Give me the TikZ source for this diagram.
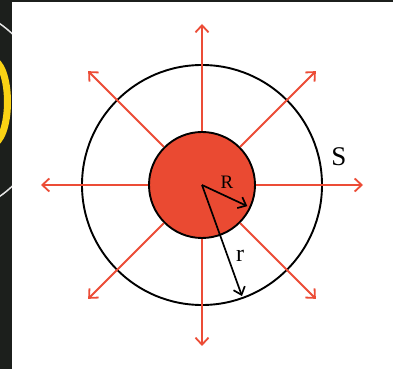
\documentclass[tikz,border=0pt]{standalone}
\usepackage{fontspec}
\setmainfont{Liberation Serif}
\usepackage{tikz}
\usetikzlibrary{arrows.meta, calc}
\definecolor{fieldred}{RGB}{236, 76, 54}
\definecolor{corered}{RGB}{234, 74, 50}
\definecolor{darkedge}{RGB}{28, 31, 28}
\definecolor{ringyellow}{RGB}{250, 210, 20}

\begin{document}
\begin{tikzpicture}[
  x=1pt, y=1pt,
  ray/.style={-{Straight Barb[length=7pt, width=13pt]}, line width=1.8pt, color=fieldred},
  radius arrow/.style={-{Straight Barb[length=7pt, width=12pt]}, line width=1.7pt, color=black},
  tag/.style={inner sep=0pt}
]
  % Frame
  \useasboundingbox (0,0) rectangle (393,369);
  \fill[white] (0,0) rectangle (393,369);
  \fill[darkedge] (0,0) rectangle (12,369);
  \fill[darkedge] (0,367) rectangle (393,369);
  \begin{scope}
    \clip (0,0) rectangle (12,369);
    \draw[ringyellow, line width=7pt] (-8,267) ellipse (15.5 and 42);
    \draw[white!80!gray, line width=1.5pt] (-60,259) circle (105);
  \end{scope}

  % Spheres
  \coordinate (o) at (202,184);
  \node[circle, draw, line width=1.9pt, minimum size=240pt, inner sep=0pt] (shell) at (o) {};
  \node[circle, draw, fill=corered, line width=1.9pt, minimum size=106pt, inner sep=0pt] (core) at (o) {};

  % Field lines
  \foreach \a in {0,45,...,315}{
    \coordinate (tip\a) at ($(o)+(\a:161)$);
    \draw[ray] (core.\a) -- (tip\a);
  }

  % Radii
  \coordinate (Rtip) at ($(o)+(-25:50)$);
  \coordinate (rtip) at ($(o)+(-70.2:118)$);
  \draw[radius arrow] (o) -- (Rtip);
  \draw[radius arrow] (o) -- (rtip);

  % Labels
  \node[tag, font=\fontsize{19}{21}\selectfont] (Rlab) at (227,187) {R};
  \node[tag, font=\fontsize{24}{26}\selectfont] (rlab) at (240,113) {r};
  \node[tag, font=\fontsize{27}{29}\selectfont] (Slab) at (339,212) {S};
\end{tikzpicture}
\end{document}
